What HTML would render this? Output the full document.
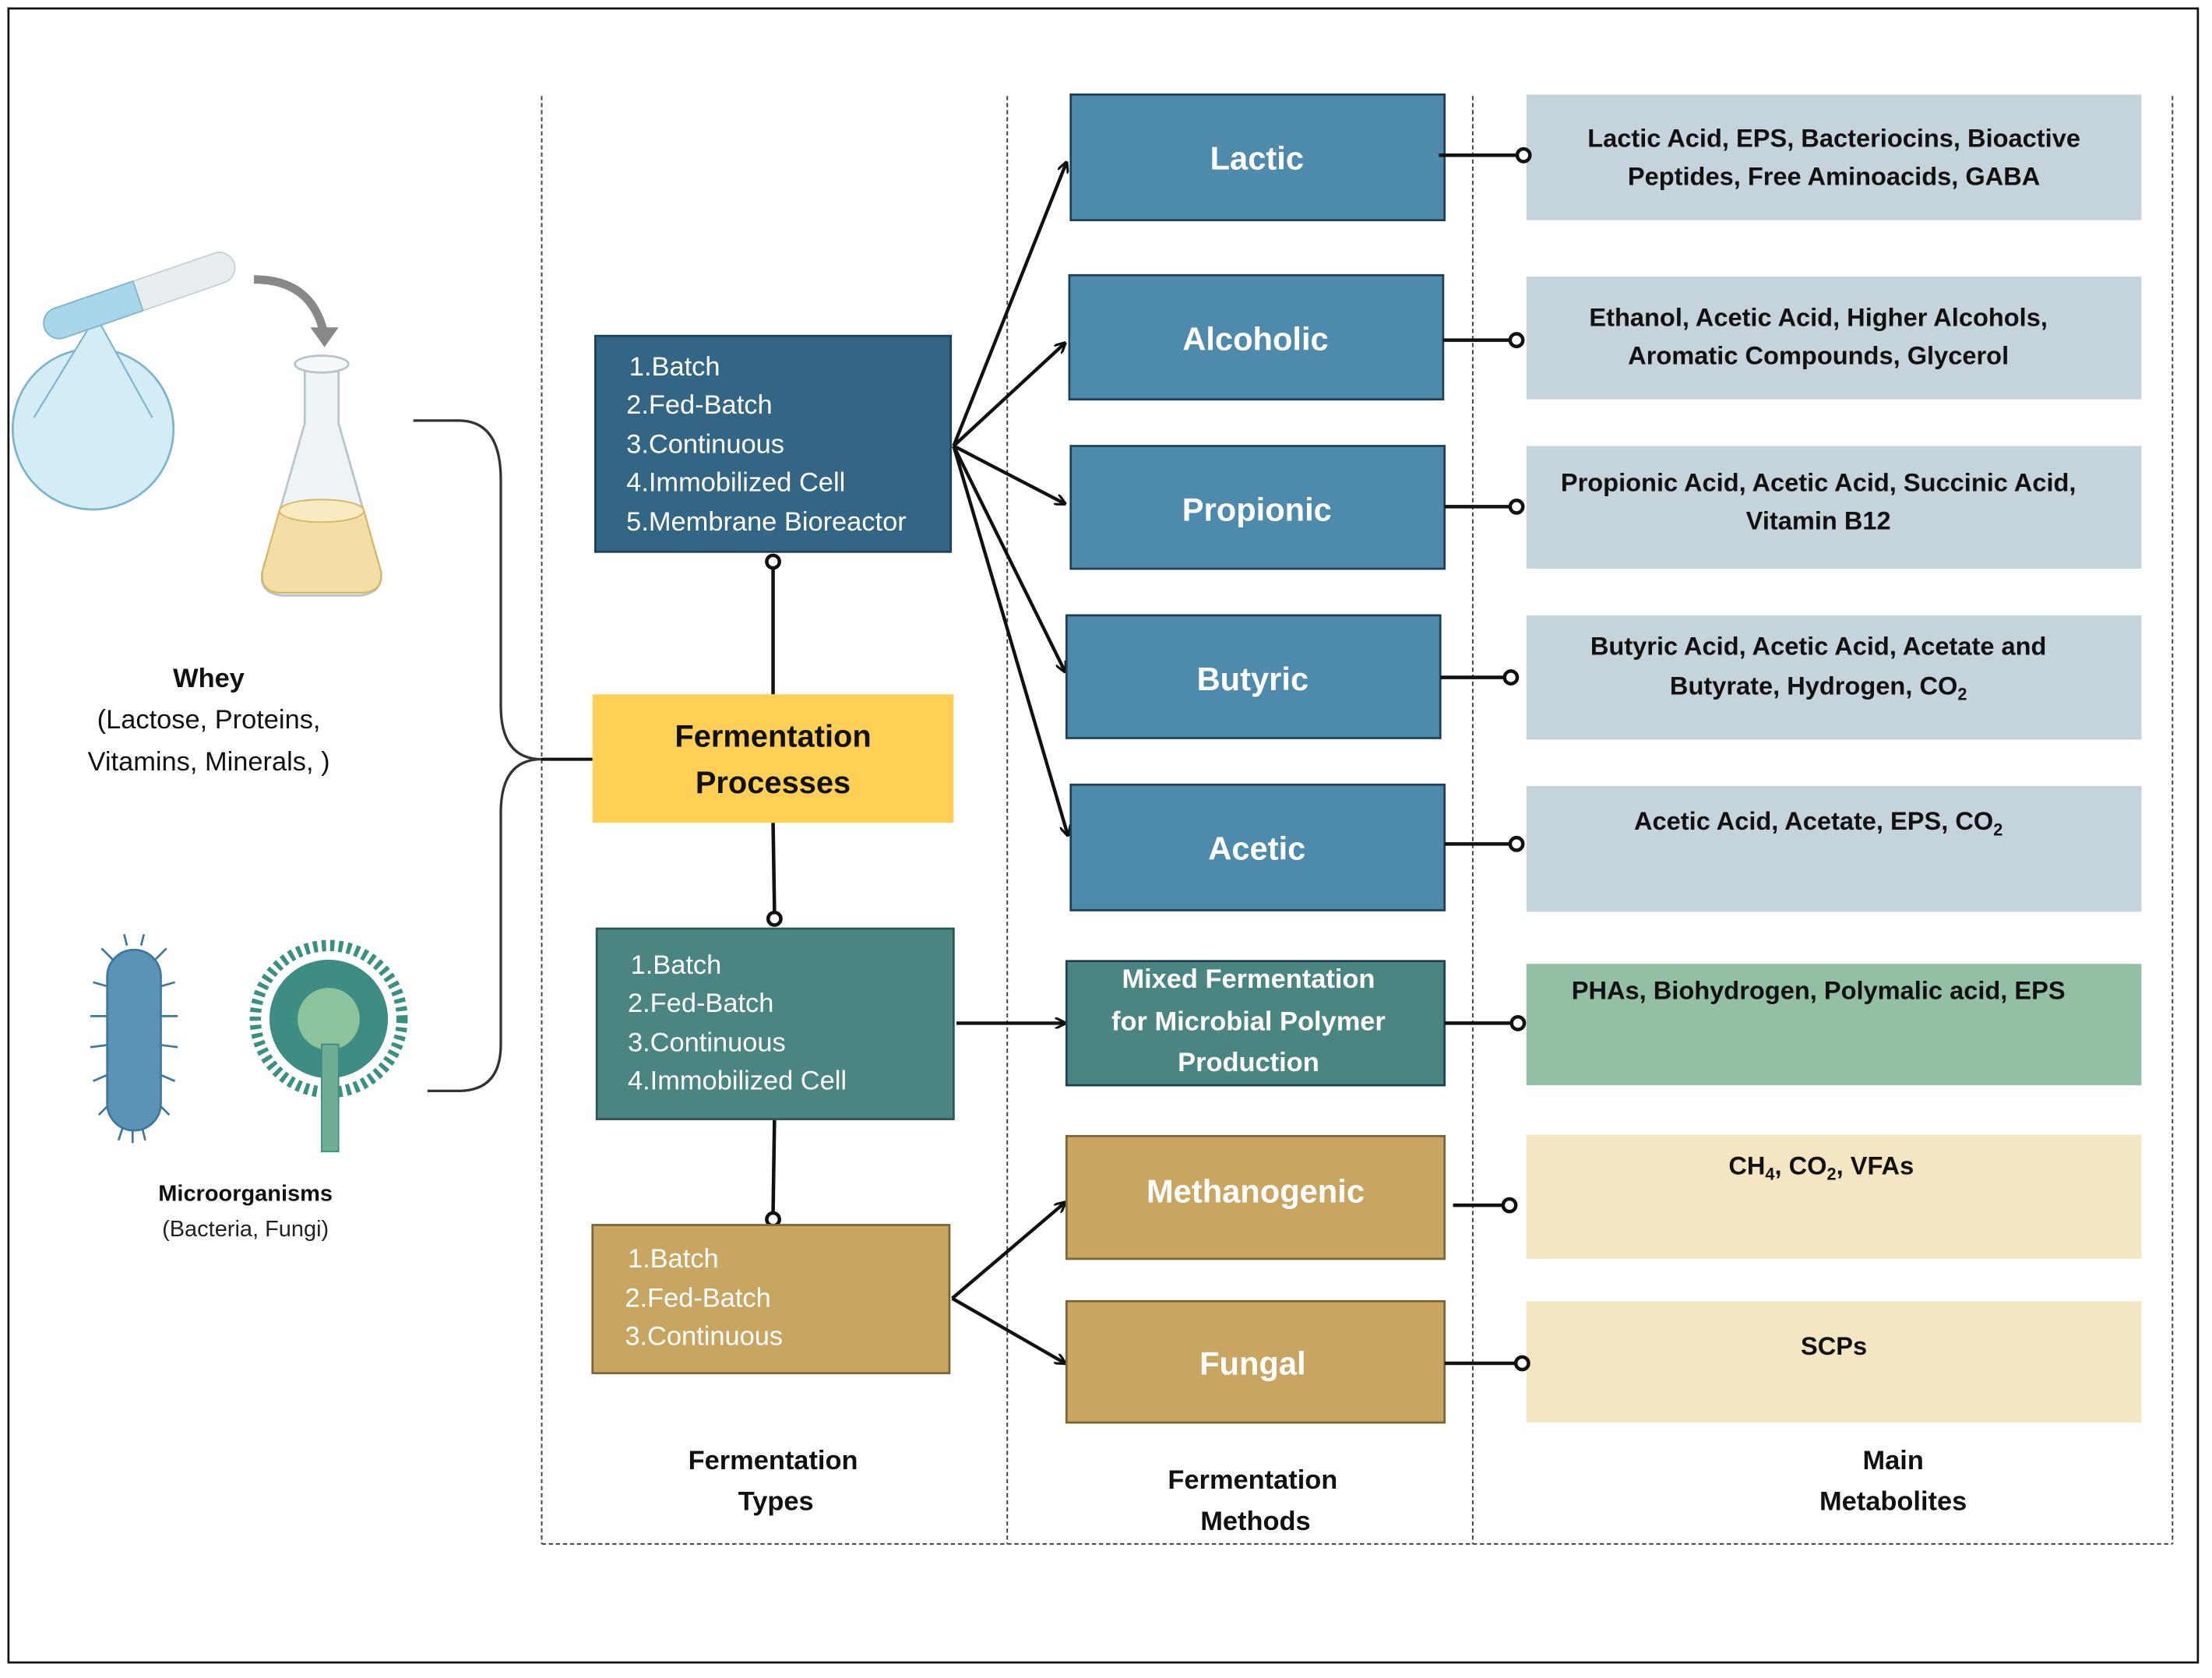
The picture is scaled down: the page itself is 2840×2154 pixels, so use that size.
<!DOCTYPE html>
<html><head><meta charset="utf-8"><style>
html,body{margin:0;padding:0;background:#fff;}
svg{display:block;}
text{font-family:"Liberation Sans",sans-serif;}
</style></head><body>
<svg width="2840" height="2154" viewBox="0 0 1568 1189" preserveAspectRatio="none" xmlns="http://www.w3.org/2000/svg">
<defs>
<marker id="ah" viewBox="0 0 10 10" refX="9" refY="5" markerWidth="8" markerHeight="8" orient="auto-start-reverse" markerUnits="userSpaceOnUse">
<path d="M0,0 L10,5 L0,10" fill="none" stroke="#111" stroke-width="2.2"/>
</marker>
</defs>
<rect x="0" y="0" width="1568" height="1189" fill="#fff"/>
<rect x="6" y="6" width="1552" height="1172" fill="none" stroke="#111" stroke-width="1.5"/>
<g stroke="#444" stroke-width="1.1" stroke-dasharray="3,2" fill="none">
<line x1="384" y1="68" x2="384" y2="1094"/>
<line x1="714" y1="68" x2="714" y2="1094"/>
<line x1="1044" y1="68" x2="1044" y2="1094"/>
<line x1="1540" y1="68" x2="1540" y2="1094"/>
<line x1="384" y1="1094" x2="1540" y2="1094"/>
</g>

<path d="M293,298 H325 Q355,298 355,340 V500 Q355,538 384,538 Q355,538 355,576 V740 Q355,773 325,773 H303" fill="none" stroke="#333" stroke-width="1.8"/>
<line x1="384" y1="538" x2="420" y2="538" stroke="#111" stroke-width="2.2"/>

<g>
<circle cx="66" cy="304" r="57" fill="#d4ecf5" stroke="#7fb5cb" stroke-width="1.5"/>
<path d="M24,296 L68,224 L108,296" fill="#d4ecf5" stroke="#7fb5cb" stroke-width="1.2"/>
<g transform="rotate(-19 100 210)">
<rect x="28" y="198" width="142" height="22" rx="11" fill="#e8eef0" stroke="#c8d0d3"/>
<path d="M39,198 H98 V220 H39 A11,11 0 0 1 39,198Z" fill="#a9d6ea" stroke="#7fb5cb"/>
</g>
<path d="M180,198 Q222,198 230,238" fill="none" stroke="#888" stroke-width="6"/>
<path d="M220,232 L240,232 L230,246Z" fill="#888"/>
<path d="M216,262 L240,262 L240,300 L270,405 Q272,420 255,422 L200,422 Q183,420 186,405 L216,300Z" fill="#eef3f5" stroke="#b8c4c8" stroke-width="1.5"/>
<ellipse cx="228" cy="258" rx="19" ry="6" fill="#f5f7f8" stroke="#b8c4c8" stroke-width="1.5"/>
<path d="M198,362 L258,362 L270,405 Q272,420 255,420 L200,420 Q184,420 186,405Z" fill="#f3dfa5" stroke="#d6b564" stroke-width="1.2"/>
<ellipse cx="228" cy="362" rx="30" ry="8" fill="#f8ebc2" stroke="#d6b564"/>
</g>
<g stroke="#3f789d" stroke-width="1.5" fill="none">
<path d="M80,680 l-8,-8 M80,700 l-14,-4 M80,720 l-16,0 M80,740 l-16,2 M80,760 l-14,6 M80,780 l-10,10 M110,680 l8,-8 M110,700 l14,-4 M110,720 l16,0 M110,740 l16,2 M110,760 l14,6 M110,780 l10,10 M90,670 l-2,-8 M100,670 l2,-8 M88,796 l-4,12 M100,796 l3,12 M94,798 l0,12"/>
</g>
<rect x="76" y="673" width="38" height="128" rx="19" fill="#5b93b6" stroke="#3f789d" stroke-width="1.5"/>
<g>
<circle cx="233" cy="722" r="52" fill="none" stroke="#3a8f82" stroke-width="8" stroke-dasharray="3,3"/>
<circle cx="233" cy="722" r="42" fill="#3e8d83"/>
<circle cx="233" cy="722" r="22" fill="#8cc39c"/>
<rect x="228" y="740" width="12" height="76" fill="#6fae94" stroke="#3e8d83"/>
</g>

<text x="148" y="487" font-size="19" font-weight="bold" text-anchor="middle" fill="#111">Whey</text>
<text x="148" y="516" font-size="19" text-anchor="middle" fill="#111">(Lactose, Proteins,</text>
<text x="148" y="546" font-size="19" text-anchor="middle" fill="#111">Vitamins, Minerals, )</text>
<text x="174" y="851" font-size="16" font-weight="bold" text-anchor="middle" fill="#111">Microorganisms</text>
<text x="174" y="876" font-size="16" text-anchor="middle" fill="#222">(Bacteria, Fungi)</text>

<g stroke="#111" stroke-width="2.5" fill="#fff">
<line x1="548" y1="403" x2="548" y2="492"/><circle cx="548" cy="398" r="4.5"/>
<line x1="548" y1="583" x2="549" y2="646"/><circle cx="549" cy="651" r="4.5"/>
<line x1="549" y1="793" x2="548" y2="859"/><circle cx="548" cy="864" r="4.5"/>
</g>

<rect x="422" y="238" width="252" height="153" fill="#336685" stroke="#1f3f55" stroke-width="1.5"/>
<g font-size="19" fill="#fff">
<text x="446" y="266">1.Batch</text>
<text x="444" y="293">2.Fed-Batch</text>
<text x="444" y="321">3.Continuous</text>
<text x="444" y="348">4.Immobilized Cell</text>
<text x="444" y="376">5.Membrane Bioreactor</text>
</g>
<rect x="420" y="492" width="256" height="91" fill="#FFCF56"/>
<text x="548" y="529" font-size="22" font-weight="bold" text-anchor="middle" fill="#111">Fermentation</text>
<text x="548" y="562" font-size="22" font-weight="bold" text-anchor="middle" fill="#111">Processes</text>
<rect x="423" y="658" width="253" height="135" fill="#4A8582" stroke="#2c5553" stroke-width="1.5"/>
<g font-size="19" fill="#fff">
<text x="447" y="690">1.Batch</text>
<text x="445" y="717">2.Fed-Batch</text>
<text x="445" y="745">3.Continuous</text>
<text x="445" y="772">4.Immobilized Cell</text>
</g>
<rect x="420" y="868" width="253" height="105" fill="#C9A562" stroke="#7a6536" stroke-width="1.5"/>
<g font-size="19" fill="#fff">
<text x="445" y="898">1.Batch</text>
<text x="443" y="926">2.Fed-Batch</text>
<text x="443" y="953">3.Continuous</text>
</g>

<g stroke="#111" stroke-width="2.4" fill="none" marker-end="url(#ah)">
<line x1="676" y1="316" x2="756" y2="115"/>
<line x1="676" y1="316" x2="755" y2="243"/>
<line x1="676" y1="316" x2="755" y2="357"/>
<line x1="676" y1="316" x2="755" y2="476"/>
<line x1="676" y1="316" x2="757" y2="592"/>
<line x1="678" y1="725" x2="755" y2="725"/>
<line x1="675" y1="920" x2="755" y2="852"/>
<line x1="675" y1="920" x2="755" y2="966"/>
</g>

<g stroke="#1f3f55" stroke-width="1.5">
<rect x="759" y="67" width="265" height="89" fill="#4E8AAB"/>
<rect x="758" y="195" width="265" height="88" fill="#4E8AAB"/>
<rect x="759" y="316" width="265" height="87" fill="#4E8AAB"/>
<rect x="756" y="436" width="265" height="87" fill="#4E8AAB"/>
<rect x="759" y="556" width="265" height="89" fill="#4E8AAB"/>
<rect x="756" y="681" width="268" height="88" fill="#4A8582"/>
<rect x="756" y="805" width="268" height="87" fill="#C9A562" stroke="#7a6536"/>
<rect x="756" y="922" width="268" height="86" fill="#C9A562" stroke="#7a6536"/>
</g>
<g font-size="23" font-weight="bold" fill="#fff" text-anchor="middle">
<text x="891" y="120">Lactic</text>
<text x="890" y="248">Alcoholic</text>
<text x="891" y="369">Propionic</text>
<text x="888" y="489">Butyric</text>
<text x="891" y="609">Acetic</text>
<text x="890" y="852">Methanogenic</text>
<text x="888" y="974">Fungal</text>
</g>
<g font-size="19" font-weight="bold" fill="#fff" text-anchor="middle">
<text x="885" y="700">Mixed Fermentation</text>
<text x="885" y="730">for Microbial Polymer</text>
<text x="885" y="759">Production</text>
</g>

<g>
<rect x="1082" y="67" width="436" height="89" fill="#C5D3DA"/>
<rect x="1082" y="196" width="436" height="87" fill="#C5D3DA"/>
<rect x="1082" y="316" width="436" height="87" fill="#C5D3DA"/>
<rect x="1082" y="436" width="436" height="88" fill="#C5D3DA"/>
<rect x="1082" y="557" width="436" height="89" fill="#C5D3DA"/>
<rect x="1082" y="683" width="436" height="86" fill="#93BFA5"/>
<rect x="1082" y="804" width="436" height="88" fill="#F5E6C3"/>
<rect x="1082" y="922" width="436" height="86" fill="#F5E6C3"/>
</g>
<g font-size="18" font-weight="bold" fill="#111" text-anchor="middle">
<text x="1300" y="104">Lactic Acid, EPS, Bacteriocins, Bioactive</text>
<text x="1300" y="131">Peptides, Free Aminoacids, GABA</text>
<text x="1289" y="231">Ethanol, Acetic Acid, Higher Alcohols,</text>
<text x="1289" y="258">Aromatic Compounds, Glycerol</text>
<text x="1289" y="348">Propionic Acid, Acetic Acid, Succinic Acid,</text>
<text x="1289" y="375">Vitamin B12</text>
<text x="1289" y="464">Butyric Acid,  Acetic Acid, Acetate and</text>
<text x="1289" y="492">Butyrate, Hydrogen, CO<tspan font-size="12" dy="4">2</tspan></text>
<text x="1289" y="588">Acetic Acid, Acetate, EPS, CO<tspan font-size="12" dy="4">2</tspan></text>
<text x="1289" y="708">PHAs, Biohydrogen, Polymalic acid, EPS</text>
<text x="1291" y="832">CH<tspan font-size="12" dy="4">4</tspan><tspan dy="-4">, CO</tspan><tspan font-size="12" dy="4">2</tspan><tspan dy="-4">, VFAs</tspan></text>
<text x="1300" y="960">SCPs</text>
</g>

<g stroke="#111" stroke-width="2.5" fill="#fff">
<line x1="1020" y1="110" x2="1075" y2="110"/><circle cx="1080" cy="110" r="4.5"/>
<line x1="1023" y1="241" x2="1070" y2="241"/><circle cx="1075" cy="241" r="4.5"/>
<line x1="1024" y1="359" x2="1070" y2="359"/><circle cx="1075" cy="359" r="4.5"/>
<line x1="1021" y1="480" x2="1066" y2="480"/><circle cx="1071" cy="480" r="4.5"/>
<line x1="1024" y1="598" x2="1070" y2="598"/><circle cx="1075" cy="598" r="4.5"/>
<line x1="1024" y1="725" x2="1071" y2="725"/><circle cx="1076" cy="725" r="4.5"/>
<line x1="1030" y1="854" x2="1065" y2="854"/><circle cx="1070" cy="854" r="4.5"/>
<line x1="1024" y1="966" x2="1074" y2="966"/><circle cx="1079" cy="966" r="4.5"/>
</g>

<g font-size="19" font-weight="bold" fill="#111" text-anchor="middle">
<text x="548" y="1041">Fermentation</text>
<text x="550" y="1070">Types</text>
<text x="888" y="1055">Fermentation</text>
<text x="890" y="1084">Methods</text>
<text x="1342" y="1041">Main</text>
<text x="1342" y="1070">Metabolites</text>
</g>
</svg>
</body></html>
